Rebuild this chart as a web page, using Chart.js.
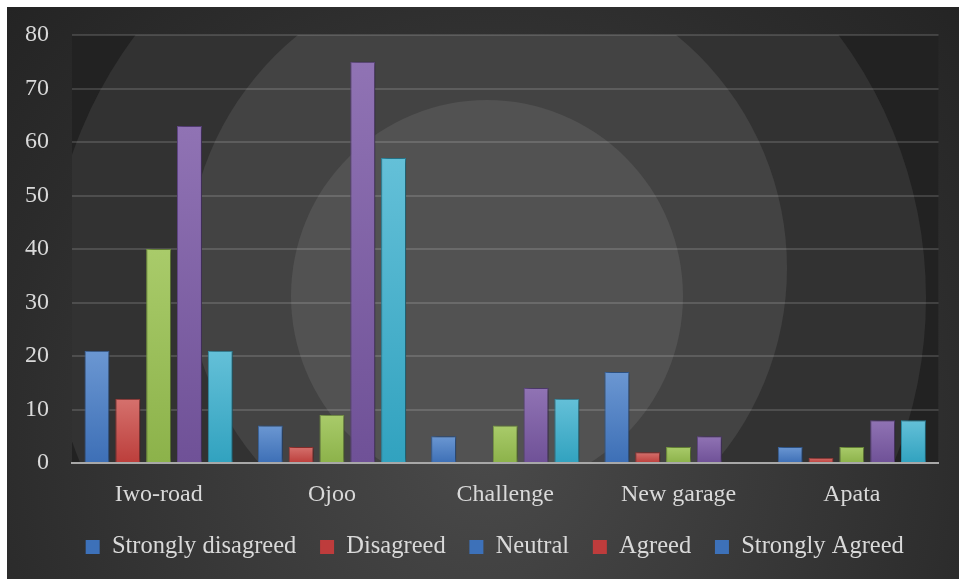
<!DOCTYPE html>
<html>
<head>
<meta charset="utf-8">
<script src="https://cdn.jsdelivr.net/npm/chart.js@4/dist/chart.umd.min.js"></script>
<style>
  html, body { margin: 0; padding: 0; background: #ffffff; }
  #wrap { position: absolute; left: 7px; top: 7px; width: 952px; height: 572px; }
</style>
</head>
<body>
<div id="wrap"><canvas id="chart"></canvas></div>
<script>
// Survey responses per location
const categories = ['Iwo-road', 'Ojoo', 'Challenge', 'New garage', 'Apata'];
const stronglyDisagreed = [21, 7, 5, 17, 3];
const disagreed = [12, 3, 0, 2, 1];
const neutral = [40, 9, 7, 3, 3];
const agreed = [63, 75, 14, 5, 8];
const stronglyAgreed = [21, 57, 12, 0, 8];
const seriesNames = ['Strongly disagreed', 'Disagreed', 'Neutral', 'Agreed', 'Strongly Agreed'];
const yMin = 0, yMax = 80, yStep = 10;

// bar fills (top, bottom) and legend swatches
const barShades = [
  ['#6b97d2', '#3d6fb6'],
  ['#d5716d', '#bc3e3b'],
  ['#a9cb6a', '#8cb24a'],
  ['#9073b4', '#6f5197'],
  ['#64c0d8', '#31a2bf']
];
const barEdges = ['#3a68a6', '#a83a37', '#7ea244', '#634889', '#2e93ad'];
const swatches = ['#3d71b9', '#be3c3c', '#3d71b9', '#be3c3c', '#3d71b9'];

const labelFont = "'Liberation Serif', 'Times New Roman', serif";
const textColor = '#d9d9d9';

function barFill(top, bottom) {
  return (ctx) => {
    const chart = ctx.chart;
    if (!chart.chartArea || ctx.type !== 'data') return bottom;
    const ys = chart.scales.y;
    const v = ctx.raw;
    const y0 = ys.getPixelForValue(0);
    const y1 = ys.getPixelForValue(v);
    if (y0 - y1 < 1) return bottom;
    const g = chart.ctx.createLinearGradient(0, y1, 0, y0);
    g.addColorStop(0, top);
    g.addColorStop(1, bottom);
    return g;
  };
}

const seriesValues = [stronglyDisagreed, disagreed, neutral, agreed, stronglyAgreed];
const datasets = seriesValues.map((vals, i) => ({
  label: seriesNames[i],
  data: vals,
  backgroundColor: barFill(barShades[i][0], barShades[i][1]),
  borderColor: barEdges[i],
  borderWidth: (ctx) => (ctx.raw ? 1 : 0),
  borderSkipped: 'bottom',
  categoryPercentage: 0.889,
  barPercentage: 0.81
}));

// dark panel with a soft glow, plot area with stepped concentric discs
const backdrop = {
  id: 'backdrop',
  beforeDraw(chart) {
    const c = chart.ctx;
    const W = chart.width, H = chart.height;
    c.save();
    const g = c.createRadialGradient(480, 440, 0, 480, 440, 650);
    g.addColorStop(0, '#4a4a4a');
    g.addColorStop(0.35, '#3c3c3c');
    g.addColorStop(0.75, '#2c2c2c');
    g.addColorStop(1, '#242424');
    c.fillStyle = g;
    c.fillRect(0, 0, W, H);

    const a = chart.chartArea;
    c.beginPath();
    c.rect(a.left, a.top, a.right - a.left, a.bottom - a.top);
    c.clip();
    c.fillStyle = '#222222';
    c.fillRect(a.left, a.top, a.right - a.left, a.bottom - a.top);
    const discs = [
      [480, 291, 439, '#323232'],
      [480, 261, 300, '#434343'],
      [480, 289, 196, '#525252']
    ];
    discs.forEach(([x, y, r, col]) => {
      c.beginPath();
      c.arc(x, y, r, 0, Math.PI * 2);
      c.fillStyle = col;
      c.fill();
    });
    c.restore();
  },
  beforeDatasetsDraw(chart) {
    const c = chart.ctx;
    c.save();
    c.shadowColor = 'rgba(0,0,0,0.55)';
    c.shadowBlur = 5;
    c.shadowOffsetX = 2;
    c.shadowOffsetY = 0;
  },
  afterDatasetsDraw(chart) {
    chart.ctx.restore();
  },
  afterLayout(chart) {
    // centre the legend row under the whole panel
    if (chart.legend) {
      chart.legend.left += 22;
      chart.legend.right += 22;
    }
  }
};

new Chart(document.getElementById('chart'), {
  type: 'bar',
  data: { labels: categories, datasets },
  options: {
    responsive: true,
    maintainAspectRatio: false,
    animation: false,
    layout: { padding: { left: 0, right: 20.5, top: 28, bottom: 9.75 } },
    plugins: {
      tooltip: { enabled: false },
      legend: {
        position: 'bottom',
        labels: {
          color: textColor,
          font: { family: labelFont, size: 24.5 },
          boxWidth: 14,
          boxHeight: 14,
          padding: 23.75,
          generateLabels: (chart) => seriesNames.map((name, i) => ({
            text: name,
            fillStyle: swatches[i],
            strokeStyle: swatches[i],
            lineWidth: 0,
            fontColor: textColor,
            hidden: false,
            datasetIndex: i
          }))
        }
      }
    },
    scales: {
      x: {
        grid: { display: false, drawTicks: false },
        border: { display: true, color: '#a8a8a8', width: 2 },
        ticks: { color: textColor, font: { family: labelFont, size: 24 }, padding: 17 },
        afterFit: (s) => { s.height = 48; }
      },
      y: {
        min: yMin,
        max: yMax,
        ticks: { stepSize: yStep, color: textColor, font: { family: labelFont, size: 24 }, padding: 23 },
        grid: {
          drawTicks: false,
          lineWidth: 2,
          color: (ctx) => (ctx.tick && ctx.tick.value === 0 ? 'rgba(0,0,0,0)' : 'rgba(255,255,255,0.14)')
        },
        border: { display: false },
        afterFit: (s) => { s.width = 65; s.paddingTop = 0; s.paddingBottom = 0; }
      }
    }
  },
  plugins: [backdrop]
});
</script>
</body>
</html>
